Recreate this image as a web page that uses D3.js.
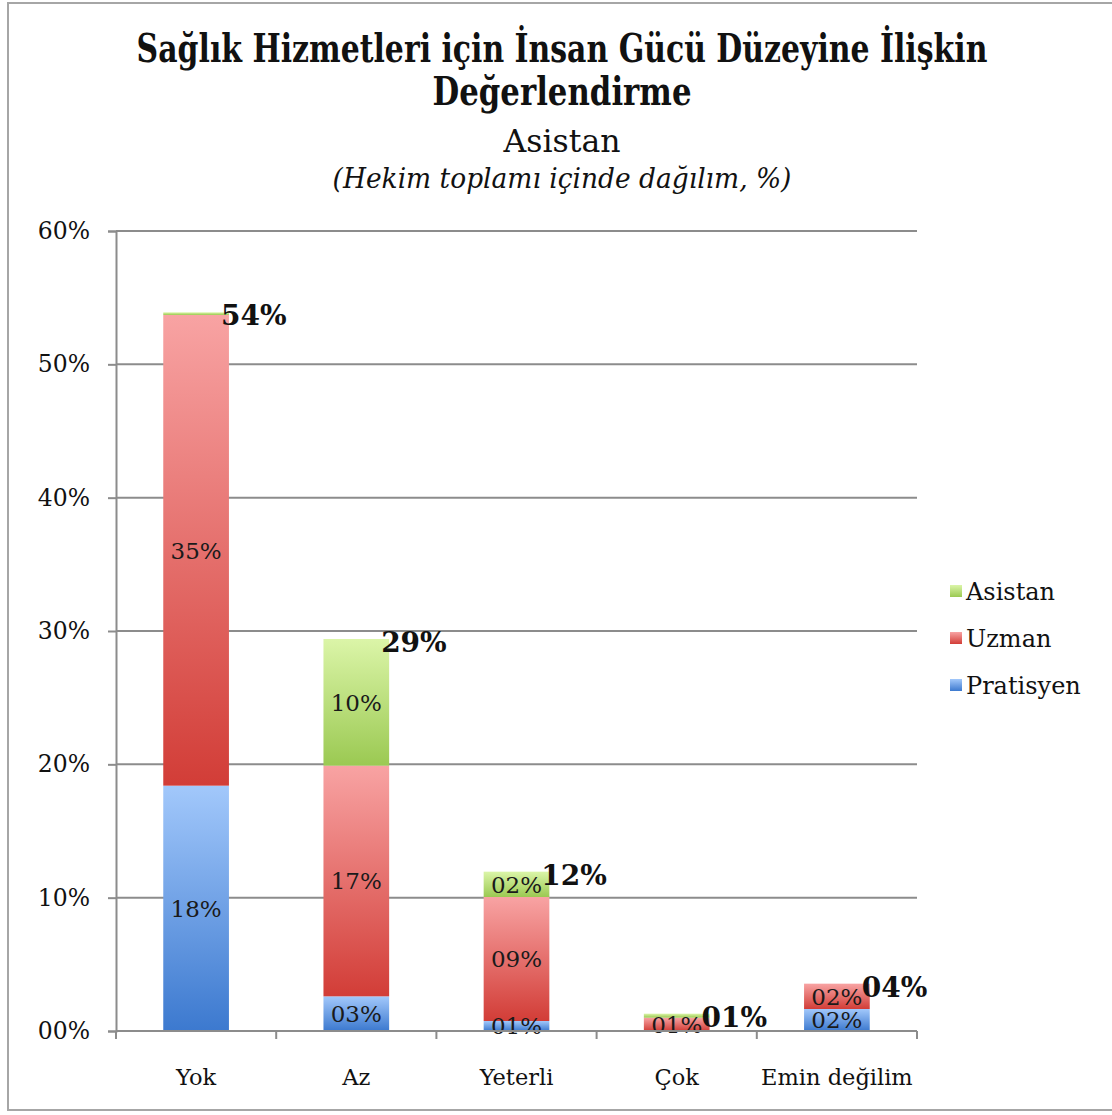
<!DOCTYPE html>
<html><head><meta charset="utf-8">
<script src="https://cdn.jsdelivr.net/npm/d3@7"></script>
<style>body{margin:0;background:#fff}svg{display:block}</style>
</head><body>
<svg id="chart" width="1112" height="1115"></svg>
<script>
const categories = ["Yok", "Az", "Yeterli", "Çok", "Emin değilim"];
const seriesNames = ["Pratisyen", "Uzman", "Asistan"];
const pratisyen = [0.184, 0.026, 0.0075, 0.0, 0.0165];
const uzman     = [0.353, 0.173, 0.093, 0.010, 0.019];
const asistan   = [0.002, 0.095, 0.019, 0.003, 0.0];
const totals    = [0.539, 0.294, 0.1195, 0.013, 0.0355];
const yTicks = [0, 0.1, 0.2, 0.3, 0.4, 0.5, 0.6];
const titleLines = ["Sağlık Hizmetleri için İnsan Gücü Düzeyine İlişkin", "Değerlendirme"];
const subTitle = "Asistan";
const subTitle2 = "(Hekim toplamı içinde dağılım, %)";

const colors = {
  Pratisyen: ["#a2c8fb", "#3c79cf"],
  Uzman: ["#f8a3a3", "#d23d37"],
  Asistan: ["#dbf5a8", "#9bc952"]
};

const svg = d3.select("#chart");
const font = "'DejaVu Serif', 'Liberation Serif', serif";

// frame
svg.append("rect").attr("x", 8).attr("y", 3).attr("width", 1120).attr("height", 1107)
  .attr("fill", "none").attr("stroke", "#a6a6a6").attr("stroke-width", 2);

const defs = svg.append("defs");
seriesNames.forEach(s => {
  const g = defs.append("linearGradient").attr("id", "g-" + s)
    .attr("x1", 0).attr("y1", 0).attr("x2", 0).attr("y2", 1);
  g.append("stop").attr("offset", "0%").attr("stop-color", colors[s][0]);
  g.append("stop").attr("offset", "100%").attr("stop-color", colors[s][1]);
});

// titles (horizontally fitted to the reference widths)
const cx = 562;
function fitted(txt, yPos, size, width, weight, style) {
  const t = svg.append("text").attr("x", 0).attr("y", 0).attr("text-anchor", "middle")
    .attr("font-family", font).attr("font-size", size).attr("fill", "#111")
    .attr("font-weight", weight || "normal").attr("font-style", style || "normal")
    .text(txt);
  const w = t.node().getComputedTextLength();
  t.attr("transform", `translate(${cx},${yPos}) scale(${width / w},1)`);
}
fitted(titleLines[0], 62, 40, 851, "bold");
fitted(titleLines[1], 105, 40, 259, "bold");
fitted(subTitle, 152, 31, 117);
fitted(subTitle2, 188, 28, 459, "normal", "italic");

const x = d3.scaleBand().domain(categories).range([116, 917]).paddingInner(0.59).paddingOuter(0.295);
const y = d3.scaleLinear().domain([0, 0.6]).range([1031, 231]);
const fmt = v => d3.format("02d")(Math.round(v * 100)) + "%";
const axisColor = "#8c8c8c";

// gridlines
svg.append("g").selectAll("line").data(yTicks.slice(1)).join("line")
  .attr("x1", 116).attr("x2", 917).attr("y1", d => y(d)).attr("y2", d => y(d))
  .attr("stroke", axisColor).attr("stroke-width", 2);

// y axis
const yAxis = svg.append("g").attr("transform", "translate(116,0)")
  .call(d3.axisLeft(y).tickValues(yTicks).tickFormat(fmt).tickSize(8).tickPadding(18));
yAxis.select(".domain").attr("stroke", axisColor).attr("stroke-width", 2);
yAxis.selectAll(".tick line").attr("stroke", axisColor).attr("stroke-width", 2);
yAxis.selectAll(".tick text").attr("font-family", font).attr("font-size", 23.5).attr("fill", "#111");

// stacked bars
const rows = categories.map((c, i) => ({cat: c, Pratisyen: pratisyen[i], Uzman: uzman[i], Asistan: asistan[i]}));
const stack = d3.stack().keys(seriesNames)(rows);

const barsG = svg.append("g");
stack.forEach(layer => {
  const key = layer.key;
  barsG.append("g").selectAll("rect").data(layer.filter(d => d[1] - d[0] > 0)).join("rect")
    .attr("x", d => x(d.data.cat))
    .attr("width", x.bandwidth())
    .attr("y", d => y(d[1]))
    .attr("height", d => y(d[0]) - y(d[1]))
    .attr("fill", "url(#g-" + key + ")");
});

// x axis
const xAxisG = svg.append("g").attr("transform", "translate(0,1031)");
xAxisG.append("line").attr("x1", 116).attr("x2", 917).attr("stroke", axisColor).attr("stroke-width", 2);
const bounds = categories.map(c => x(c) - x.step() * x.paddingInner() / 2).concat([917]);
bounds[0] = 116;
xAxisG.selectAll(".xt").data(bounds).join("line").attr("class", "xt")
  .attr("x1", d => d).attr("x2", d => d).attr("y1", 0).attr("y2", 8)
  .attr("stroke", axisColor).attr("stroke-width", 2);
xAxisG.selectAll(".xl").data(categories).join("text").attr("class", "xl")
  .attr("x", d => x(d) + x.bandwidth() / 2).attr("y", 54)
  .attr("text-anchor", "middle").attr("font-family", font).attr("font-size", 22.5).attr("fill", "#111")
  .text(d => d);

// segment labels
stack.forEach(layer => {
  barsG.append("g").selectAll("text").data(layer.filter(d => Math.round((d[1] - d[0]) * 100) >= 1)).join("text")
    .attr("x", d => x(d.data.cat) + x.bandwidth() / 2)
    .attr("y", d => (y(d[0]) + y(d[1])) / 2)
    .attr("dy", "0.36em")
    .attr("text-anchor", "middle").attr("font-family", font).attr("font-size", 23).attr("fill", "#1a1a1a")
    .text(d => fmt(d[1] - d[0]));
});

// totals
svg.append("g").selectAll("text").data(categories).join("text")
  .attr("x", d => x(d) + x.bandwidth() - 8)
  .attr("y", (d, i) => y(totals[i]) + 3)
  .attr("dy", "0.36em")
  .attr("font-family", font).attr("font-weight", "bold").attr("font-size", 28).attr("fill", "#111")
  .text((d, i) => fmt(totals[i]));

// legend
const legendItems = ["Asistan", "Uzman", "Pratisyen"];
const lg = svg.append("g").selectAll("g").data(legendItems).join("g")
  .attr("transform", (d, i) => `translate(950,${591 + i * 47})`);
lg.append("rect").attr("x", 0).attr("y", -6).attr("width", 12).attr("height", 12)
  .attr("fill", d => "url(#g-" + d + ")");
lg.append("text").attr("x", 16).attr("dy", "0.36em").attr("font-family", font).attr("font-size", 24)
  .attr("fill", "#111").text(d => d);
</script>
</body></html>
